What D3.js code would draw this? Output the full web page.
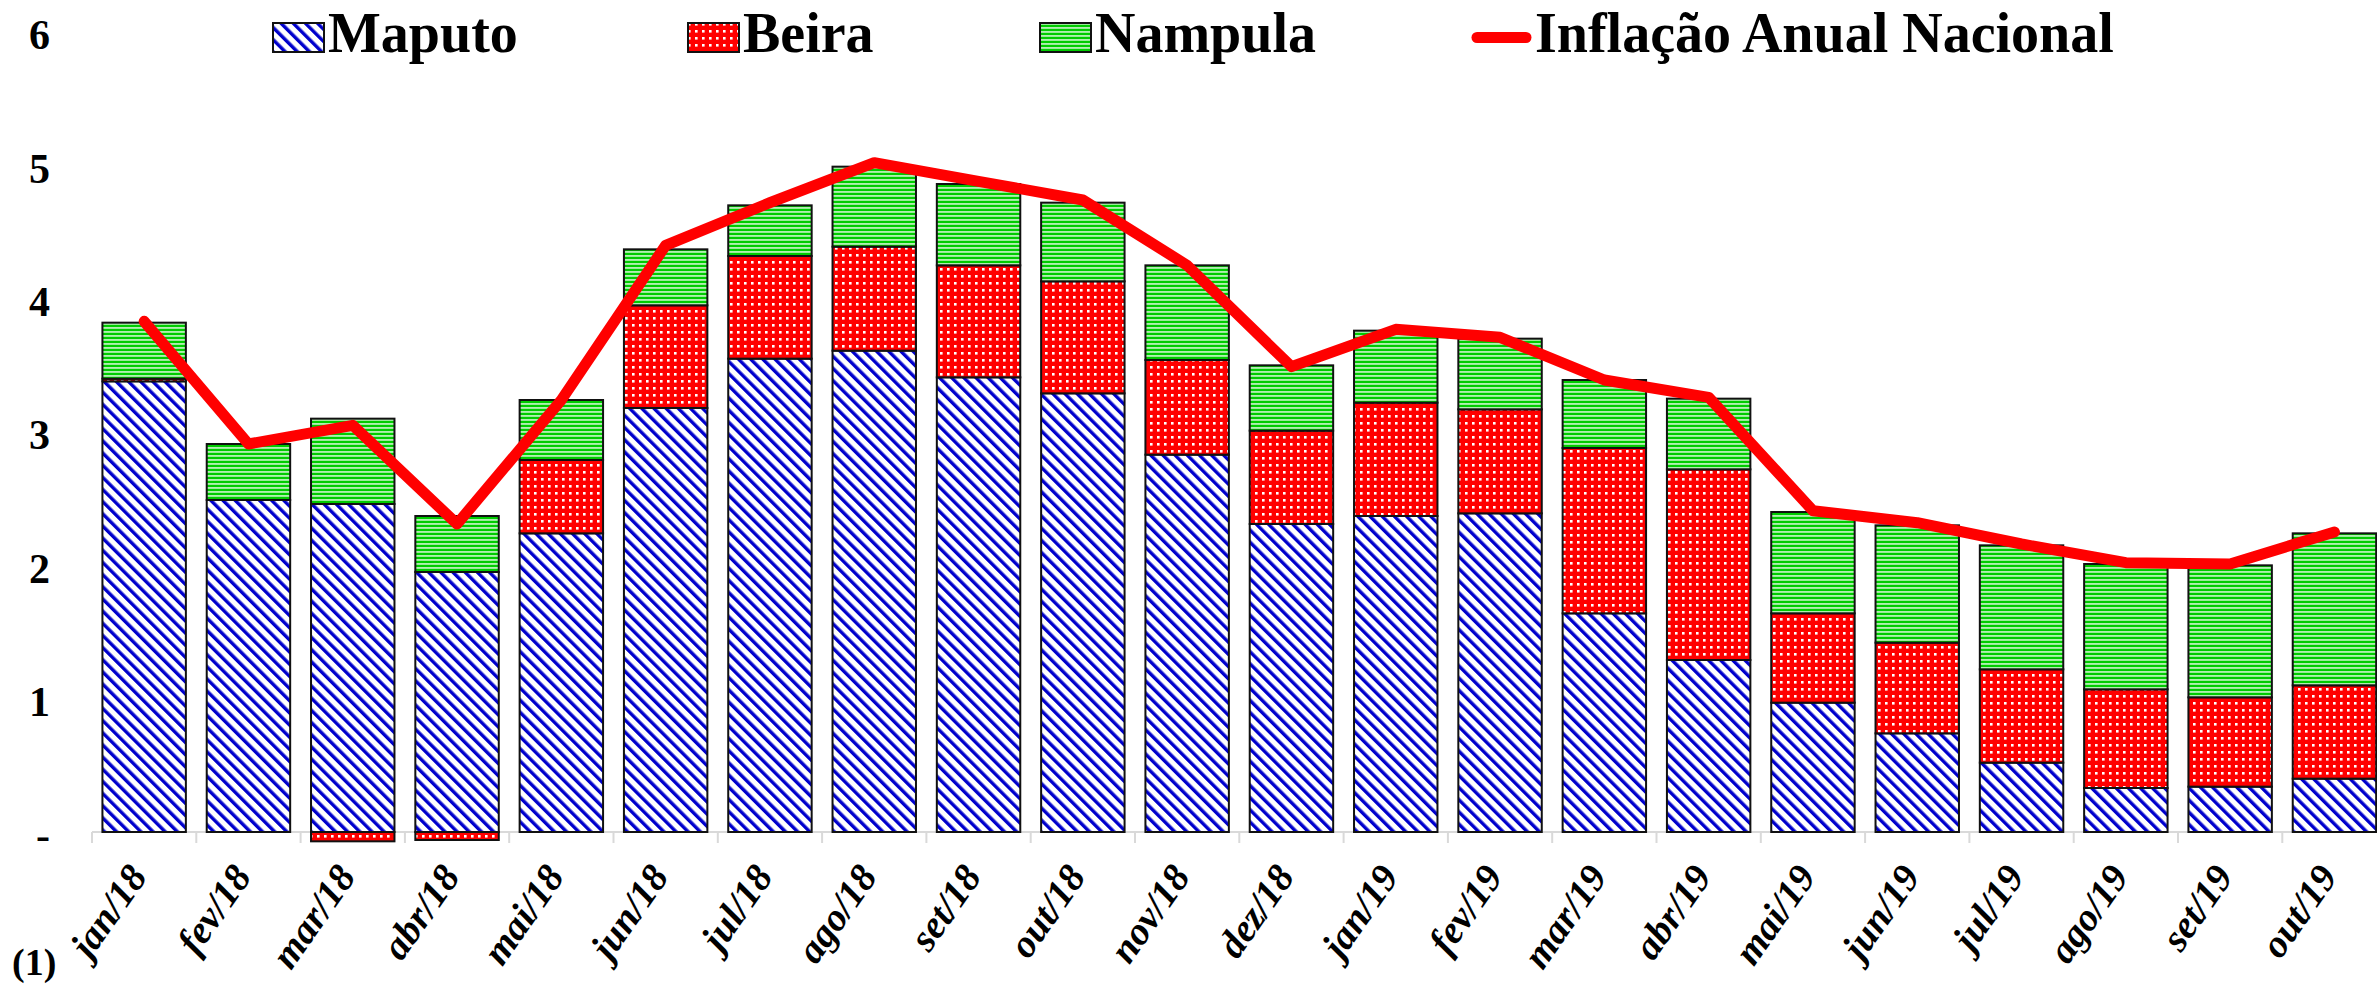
<!DOCTYPE html>
<html>
<head>
<meta charset="utf-8">
<script src="https://cdn.jsdelivr.net/npm/d3@7"></script>
<style>
    body { margin: 0; background: #fff; }
    svg { display: block; }
    text { font-family: 'Liberation Serif', 'Times New Roman', serif; font-weight: bold; fill: #000; }
</style>
</head>
<body>
<svg id="chart" width="2377" height="985"></svg>
<script>
var months = ['jan/18', 'fev/18', 'mar/18', 'abr/18', 'mai/18', 'jun/18', 'jul/18', 'ago/18', 'set/18', 'out/18', 'nov/18',
    'dez/18', 'jan/19', 'fev/19', 'mar/19', 'abr/19', 'mai/19', 'jun/19', 'jul/19', 'ago/19', 'set/19', 'out/19'];

var maputo = [3.38, 2.49, 2.46, 1.95, 2.24, 3.18, 3.55, 3.61, 3.41, 3.29, 2.83, 2.31, 2.37, 2.39, 1.64, 1.29, 0.97, 0.74, 0.52, 0.33, 0.34, 0.40];
var beira = [0.02, 0.00, -0.07, -0.06, 0.55, 0.77, 0.77, 0.78, 0.84, 0.84, 0.71, 0.70, 0.85, 0.78, 1.24, 1.43, 0.67, 0.68, 0.70, 0.74, 0.67, 0.70];
var nampula = [0.42, 0.42, 0.64, 0.42, 0.45, 0.42, 0.38, 0.60, 0.61, 0.59, 0.71, 0.49, 0.54, 0.53, 0.51, 0.53, 0.76, 0.88, 0.93, 0.94, 0.99, 1.14];
var inflacao = [3.83, 2.91, 3.05, 2.31, 3.24, 4.40, 4.72, 5.02, 4.88, 4.74, 4.25, 3.49, 3.77, 3.71, 3.39, 3.26, 2.41, 2.32, 2.16, 2.02, 2.01, 2.25];

var yTicks = [0, 1, 2, 3, 4, 5, 6];
var seriesNames = ['Maputo', 'Beira', 'Nampula'];
var lineName = 'Inflação Anual Nacional';

var table = months.map(function (m, i) {
    return {month: m, Maputo: maputo[i], Beira: beira[i], Nampula: nampula[i]};
});

const svg = d3.select('#chart');
const defs = svg.append('defs');

// Maputo: blue downward diagonal
const pMap = defs.append('pattern')
    .attr('id', 'pat-Maputo')
    .attr('patternUnits', 'userSpaceOnUse')
    .attr('width', 8.6).attr('height', 8.6)
    .attr('patternTransform', 'rotate(-45)');
pMap.append('rect').attr('width', 8.6).attr('height', 8.6).attr('fill', '#fff');
pMap.append('rect').attr('width', 3.4).attr('height', 8.6).attr('fill', '#0000cc');

// Beira: red with white dots
const pBei = defs.append('pattern')
    .attr('id', 'pat-Beira')
    .attr('patternUnits', 'userSpaceOnUse')
    .attr('width', 7).attr('height', 7);
pBei.append('rect').attr('width', 7).attr('height', 7).attr('fill', '#ff0000');
pBei.append('rect').attr('x', 2).attr('y', 2).attr('width', 2.6).attr('height', 2.6).attr('fill', '#fff');

// Nampula: green horizontal lines
const pNam = defs.append('pattern')
    .attr('id', 'pat-Nampula')
    .attr('patternUnits', 'userSpaceOnUse')
    .attr('width', 8).attr('height', 4);
pNam.append('rect').attr('width', 8).attr('height', 4).attr('fill', '#fff');
pNam.append('rect').attr('y', 0.6).attr('width', 8).attr('height', 2.7).attr('fill', '#00cc00');

const xScale = d3.scaleBand()
    .domain(months)
    .range([92, 2386.6])
    .paddingInner(0.2)
    .paddingOuter(0.1);

const yScale = d3.scaleLinear()
    .domain([0, 6])
    .range([832, 32]);

// category axis (gray line, ticks between categories)
const edges = months.map(function (m) { return xScale(m) - xScale.step() * 0.1; });
edges.push(xScale.range()[1]);

svg.append('line')
    .attr('x1', 92).attr('x2', xScale.range()[1])
    .attr('y1', yScale(0)).attr('y2', yScale(0))
    .attr('stroke', '#d9d9d9').attr('stroke-width', 2);

svg.append('g').selectAll('line')
    .data(edges)
    .enter().append('line')
    .attr('x1', function (d) { return d; }).attr('x2', function (d) { return d; })
    .attr('y1', yScale(0)).attr('y2', yScale(0) + 11)
    .attr('stroke', '#d9d9d9').attr('stroke-width', 2);

// stacked bars
const stack = d3.stack().keys(seriesNames).offset(d3.stackOffsetDiverging);
const layers = stack(table);

svg.append('g').selectAll('g')
    .data(layers)
    .enter().append('g')
    .attr('fill', function (d) { return 'url(#pat-' + d.key + ')'; })
    .selectAll('rect')
    .data(function (d) { return d; })
    .enter().append('rect')
    .attr('x', function (d) { return xScale(d.data.month); })
    .attr('width', xScale.bandwidth())
    .attr('y', function (d) { return yScale(Math.max(d[0], d[1])); })
    .attr('height', function (d) { return Math.abs(yScale(d[0]) - yScale(d[1])); })
    .attr('stroke', '#111')
    .attr('stroke-width', 2);

// y labels
const yAxis = svg.append('g')
    .attr('transform', 'translate(53,0)')
    .call(d3.axisLeft(yScale)
        .tickValues(yTicks)
        .tickSize(0)
        .tickPadding(3)
        .tickFormat(function (d) { return d === 0 ? '-' : d; }));
yAxis.select('.domain').remove();
yAxis.selectAll('text')
    .attr('dy', '0.4em')
    .style('font-family', "'Liberation Serif', serif")
    .style('font-weight', 'bold')
    .style('font-size', '42px');

// x labels
svg.append('g').selectAll('text')
    .data(months)
    .enter().append('text')
    .attr('transform', function (d) {
        return 'translate(' + (xScale(d) + xScale.bandwidth() / 2 - 7) + ',869) rotate(-55)';
    })
    .attr('text-anchor', 'end')
    .attr('dy', '0.35em')
    .style('font-size', '39px')
    .style('font-style', 'italic')
    .text(function (d) { return d; });

// national inflation line
const line = d3.line()
    .x(function (d, i) { return xScale(months[i]) + xScale.bandwidth() / 2; })
    .y(function (d) { return yScale(d); });

svg.append('path')
    .datum(inflacao)
    .attr('d', line)
    .attr('fill', 'none')
    .attr('stroke', '#ff0000')
    .attr('stroke-width', 11)
    .attr('stroke-linecap', 'round')
    .attr('stroke-linejoin', 'round');

// legend
var legendX = [273, 688, 1040];
const legend = svg.append('g');
seriesNames.forEach(function (name, i) {
    legend.append('rect')
        .attr('x', legendX[i]).attr('y', 23)
        .attr('width', 51).attr('height', 29)
        .attr('fill', 'url(#pat-' + name + ')')
        .attr('stroke', '#111').attr('stroke-width', 2);
    legend.append('text')
        .attr('x', legendX[i] + 55).attr('y', 52)
        .style('font-size', '56px')
        .text(name);
});
legend.append('line')
    .attr('x1', 1477).attr('x2', 1526)
    .attr('y1', 37.5).attr('y2', 37.5)
    .attr('stroke', '#ff0000').attr('stroke-width', 11)
    .attr('stroke-linecap', 'round');
legend.append('text')
    .attr('x', 1535).attr('y', 52)
    .style('font-size', '56px')
    .text(lineName);

svg.append('text')
    .attr('x', 12).attr('y', 975)
    .style('font-size', '38px')
    .text('(1)');
</script>
</body>
</html>
